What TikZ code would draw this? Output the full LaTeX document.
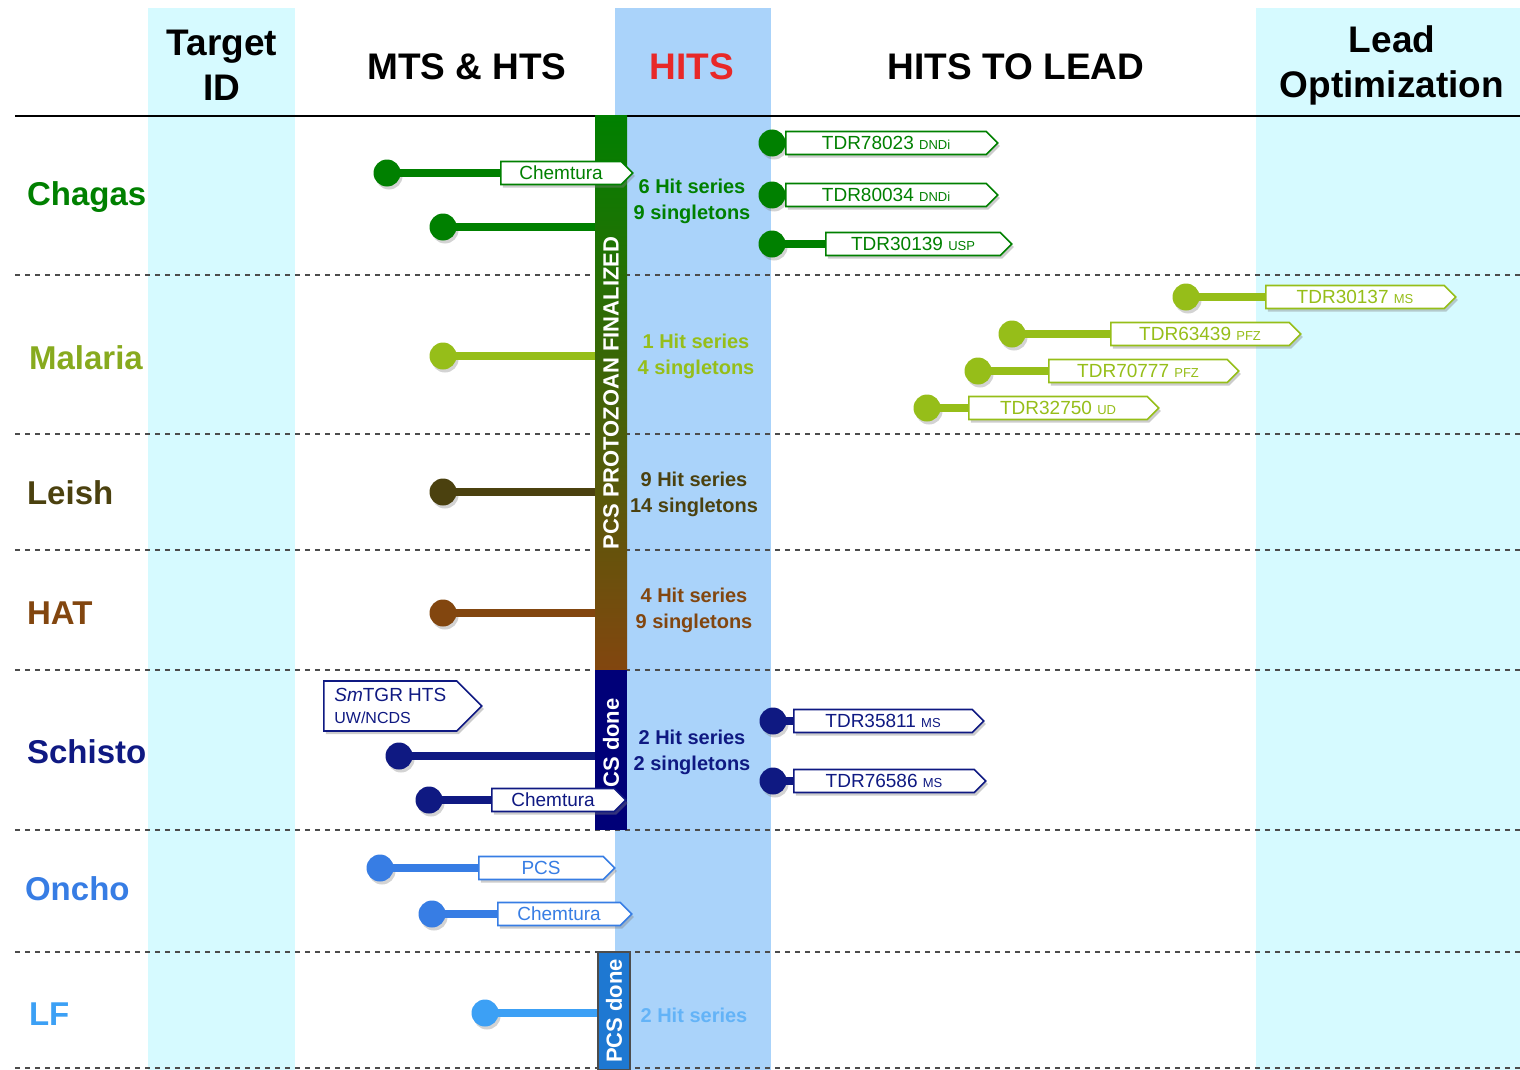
\documentclass[tikz,border=0pt]{standalone}
\usepackage{fontspec}
\setmainfont{Liberation Sans}
\usetikzlibrary{shapes.symbols,shadows}
\definecolor{cyanbg}{RGB}{214,250,255}
\definecolor{hitsbg}{RGB}{170,211,250}
\definecolor{hitsred}{RGB}{232,40,40}
\definecolor{chagas}{RGB}{0,128,0}
\definecolor{malaria}{RGB}{150,190,25}
\definecolor{malarialab}{RGB}{135,170,30}
\definecolor{leish}{RGB}{75,65,15}
\definecolor{hat}{RGB}{130,70,15}
\definecolor{schisto}{RGB}{15,25,130}
\definecolor{oncho}{RGB}{55,125,228}
\definecolor{lf}{RGB}{60,160,245}
\definecolor{lfbar}{RGB}{30,120,210}
\newcommand\orgtag[1]{{\fontsize{6.5}{7}\selectfont #1}}

\begin{document}
\begin{tikzpicture}[x=0.5pt,y=-0.5pt,
  head/.style={font=\bfseries\fontsize{18.5}{22.5}\selectfont, align=center},
  rowlab/.style={font=\bfseries\fontsize{16.5}{20}\selectfont, anchor=west},
  hitnote/.style={font=\bfseries\fontsize{10}{13}\selectfont, align=center, text=#1},
  sep/.style={dashed, dash pattern=on 2.5pt off 2.5pt, line width=0.9pt, gray!60!black},
  ball/.style={circle, fill=#1, minimum size=13.5pt, inner sep=0pt,
    drop shadow={shadow xshift=1pt, shadow yshift=-1.5pt, opacity=.35}},
  stick/.style={#1, line width=4pt},
  tag/.style={signal, signal to=east, draw=#1, fill=white, line width=0.8pt,
    minimum height=11.5pt, inner sep=1pt, anchor=west, text=#1,
    font=\fontsize{9.5}{10}\selectfont,
    drop shadow={shadow xshift=1pt, shadow yshift=-1.5pt, opacity=.4}},
  barlab/.style={rotate=90, text=white, font=\bfseries\fontsize{11}{12}\selectfont}]

\useasboundingbox (0,0) rectangle (1520,1070);

% columns
\fill[cyanbg] (148,8) rectangle (295,1070);
\fill[cyanbg] (1256,8) rectangle (1520,1070);
\fill[hitsbg] (615,8) rectangle (771,1070);

% headers
\node[head] (hTarget) at (222,65) {Target\\ID};
\node[head] (hMts) at (467,67) {MTS \& HTS};
\node[head, text=hitsred] (hHits) at (692,67) {HITS};
\node[head] (hLead) at (1016,67) {HITS TO LEAD};
\node[head] (hOpt) at (1392,65) {Lead\\Optimization};
\draw[line width=1pt] (15,116) -- (1520,116);

% row separators
\foreach \y in {275,434,550,670,830,952,1068}
  \draw[sep] (15,\y) -- (1520,\y);

% row labels
\node[rowlab, text=chagas] (rChagas) at (20,197) {Chagas};
\node[rowlab, text=malarialab] (rMalaria) at (22,358) {Malaria};
\node[rowlab, text=leish] (rLeish) at (20,493) {Leish};
\node[rowlab, text=hat] (rHat) at (20,613) {HAT};
\node[rowlab, text=schisto] (rSchisto) at (20,752) {Schisto};
\node[rowlab, text=oncho] (rOncho) at (18,889) {Oncho};
\node[rowlab, text=lf] (rLf) at (22,1014) {LF};

% screening bars
\node[minimum width=16pt, minimum height=277pt, inner sep=0pt,
  top color=chagas, middle color={rgb,255:red,80;green,90;blue,15}, bottom color=hat] (pcsbar) at (611,393) {};
\node[barlab] at (pcsbar.center) {PCS PROTOZOAN FINALIZED};
\node[minimum width=16pt, minimum height=80pt, inner sep=0pt, fill={rgb,255:red,0;green,0;blue,120}] (csbar) at (611,750) {};
\node[barlab] at (611,743) {CS done};
\node[minimum width=16pt, minimum height=59pt, inner sep=0pt, fill=lfbar, draw=black!70, line width=0.6pt] (lfbar) at (614,1011) {};
\node[barlab] at (lfbar.center) {PCS done};

% hit counts
\node[hitnote=chagas] (nChagas) at (692,201) {6 Hit series\\9 singletons};
\node[hitnote=malaria] (nMalaria) at (696,356) {1 Hit series\\4 singletons};
\node[hitnote=leish] (nLeish) at (694,494) {9 Hit series\\14 singletons};
\node[hitnote=hat] (nHat) at (694,610) {4 Hit series\\9 singletons};
\node[hitnote=schisto] (nSchisto) at (692,752) {2 Hit series\\2 singletons};
\node[hitnote=lf!80] (nLf) at (694,1015) {2 Hit series};

% Chagas
\node[ball=chagas] (cg1) at (387,173) {};
\node[tag=chagas, minimum width=66pt] (cgChem) at (500,173) {Chemtura};
\draw[stick=chagas] (cg1.center) -- (cgChem.west);
\node[ball=chagas] (cg2) at (443,227) {};
\draw[stick=chagas] (cg2.center) -- (cg2 -| pcsbar.west);
\node[ball=chagas] (cg3) at (772,143) {};
\node[tag=chagas, minimum width=106pt] (cgA) at (785,143) {TDR78023 \orgtag{DNDi}};
\node[ball=chagas] (cg4) at (772,195) {};
\node[tag=chagas, minimum width=106pt] (cgB) at (785,195) {TDR80034 \orgtag{DNDi}};
\node[ball=chagas] (cg5) at (772,244) {};
\node[tag=chagas, minimum width=93pt] (cgC) at (825,244) {TDR30139 \orgtag{USP}};
\draw[stick=chagas] (cg5.center) -- (cgC.west);

% Malaria
\node[ball=malaria] (ml1) at (443,356) {};
\draw[stick=malaria] (ml1.center) -- (ml1 -| pcsbar.west);
\node[ball=malaria] (ml2) at (1186,297) {};
\node[tag=malaria, minimum width=95pt] (mlA) at (1265,297) {TDR30137 \orgtag{MS}};
\draw[stick=malaria] (ml2.center) -- (mlA.west);
\node[ball=malaria] (ml3) at (1012,334) {};
\node[tag=malaria, minimum width=95pt] (mlB) at (1110,334) {TDR63439 \orgtag{PFZ}};
\draw[stick=malaria] (ml3.center) -- (mlB.west);
\node[ball=malaria] (ml4) at (978,371) {};
\node[tag=malaria, minimum width=95pt] (mlC) at (1048,371) {TDR70777 \orgtag{PFZ}};
\draw[stick=malaria] (ml4.center) -- (mlC.west);
\node[ball=malaria] (ml5) at (927,408) {};
\node[tag=malaria, minimum width=95pt] (mlD) at (968,408) {TDR32750 \orgtag{UD}};
\draw[stick=malaria] (ml5.center) -- (mlD.west);

% Leish and HAT
\node[ball=leish] (ls1) at (443,492) {};
\draw[stick=leish] (ls1.center) -- (ls1 -| pcsbar.west);
\node[ball=hat] (ht1) at (443,613) {};
\draw[stick=hat] (ht1.center) -- (ht1 -| pcsbar.west);

% Schisto
\node[tag=schisto, minimum width=79pt, minimum height=25pt, align=left,
  font=\fontsize{9.5}{11}\selectfont] (scHts) at (323,706) {\textit{Sm}TGR HTS\\{\fontsize{8}{9}\selectfont UW/NCDS}};
\node[ball=schisto] (sc1) at (399,756) {};
\draw[stick=schisto] (sc1.center) -- (sc1 -| csbar.west);
\node[ball=schisto] (sc2) at (429,800) {};
\node[tag=schisto, minimum width=67pt] (scChem) at (491,800) {Chemtura};
\draw[stick=schisto] (sc2.center) -- (scChem.west);
\node[ball=schisto] (sc3) at (773,721) {};
\node[tag=schisto, minimum width=95pt] (scA) at (793,721) {TDR35811 \orgtag{MS}};
\draw[stick=schisto] (sc3.center) -- (scA.west);
\node[ball=schisto] (sc4) at (773,781) {};
\node[tag=schisto, minimum width=96pt] (scB) at (793,781) {TDR76586 \orgtag{MS}};
\draw[stick=schisto] (sc4.center) -- (scB.west);

% Oncho
\node[ball=oncho] (on1) at (380,868) {};
\node[tag=oncho, minimum width=68pt] (onPcs) at (478,868) {PCS};
\draw[stick=oncho] (on1.center) -- (onPcs.west);
\node[ball=oncho] (on2) at (432,914) {};
\node[tag=oncho, minimum width=67pt] (onChem) at (497,914) {Chemtura};
\draw[stick=oncho] (on2.center) -- (onChem.west);

% LF
\node[ball=lf] (lf1) at (485,1013) {};
\draw[stick=lf] (lf1.center) -- (lf1 -| lfbar.west);

\end{tikzpicture}
\end{document}
